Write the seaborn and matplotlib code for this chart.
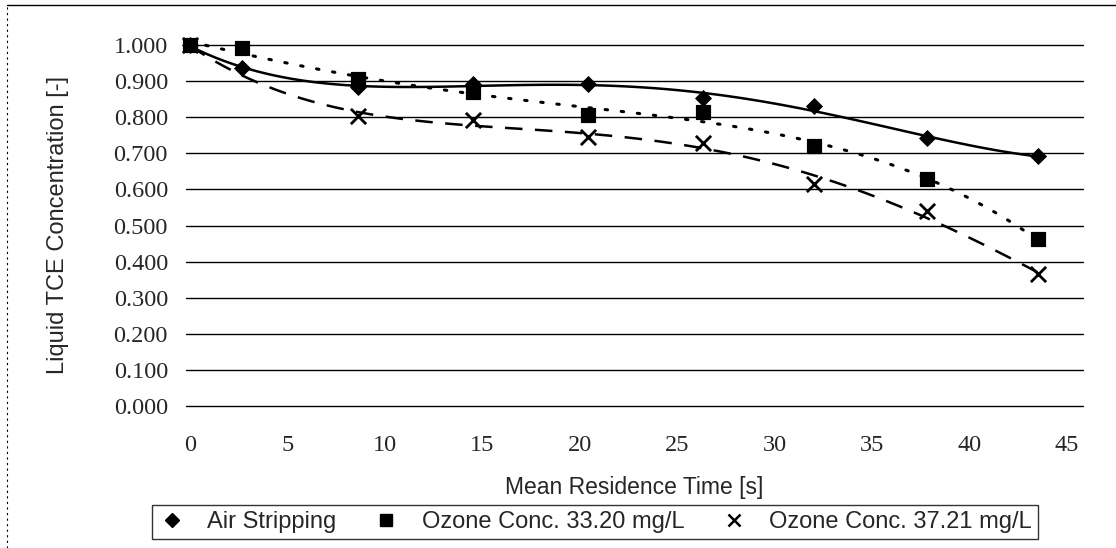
import numpy as np
import pandas as pd
import matplotlib
matplotlib.use("Agg")
import matplotlib.pyplot as plt
import seaborn as sns
from matplotlib.lines import Line2D

# ---- data ----
time_s = [0, 2.65, 8.6, 14.5, 20.4, 26.3, 32.0, 37.8, 43.5]
air_stripping = [1.000, 0.935, 0.885, 0.893, 0.891, 0.852, 0.832, 0.742, 0.692]
ozone_3320 = [1.000, 0.993, 0.905, 0.870, 0.807, 0.815, 0.720, 0.628, 0.462]
time_s_x = [0, 8.6, 14.5, 20.4, 26.3, 32.0, 37.8, 43.5]
ozone_3721 = [1.000, 0.804, 0.792, 0.745, 0.728, 0.614, 0.540, 0.365]

series_names = ["Air Stripping", "Ozone Conc. 33.20 mg/L", "Ozone Conc. 37.21 mg/L"]
x_ticks = [0, 5, 10, 15, 20, 25, 30, 35, 40, 45]
y_ticks = [0.0, 0.1, 0.2, 0.3, 0.4, 0.5, 0.6, 0.7, 0.8, 0.9, 1.0]

df_air = pd.DataFrame({"t": time_s, "c": air_stripping})
df_o1 = pd.DataFrame({"t": time_s, "c": ozone_3320})
df_o2 = pd.DataFrame({"t": time_s_x, "c": ozone_3721})

sns.set_style("white")
plt.rcParams["font.family"] = ["Liberation Sans", "DejaVu Sans"]

fig = plt.figure(figsize=(11.16, 5.48), dpi=100)
ax = fig.add_axes([186/1116, 1 - 406/548, (1083 - 186)/1116, (406 - 45)/548])

# grid
for yv in y_ticks:
    ax.axhline(yv, color="black", lw=1.0, zorder=1)

# fitted curves
sns.regplot(data=df_air, x="t", y="c", order=4, ci=None, scatter=False, ax=ax,
            line_kws=dict(color="black", lw=1.8, ls="-", zorder=2))
sns.regplot(data=df_o1, x="t", y="c", order=4, ci=None, scatter=False, ax=ax,
            line_kws=dict(color="black", lw=2.2, ls=(0, (0.8, 4.5)), dash_capstyle="round", zorder=2))
sns.regplot(data=df_o2, x="t", y="c", order=4, ci=None, scatter=False, ax=ax,
            line_kws=dict(color="black", lw=1.8, ls=(0, (7, 5)), zorder=2))

# markers
sns.scatterplot(data=df_air, x="t", y="c", marker="D", s=65, color="black",
                edgecolor="black", ax=ax, zorder=4)
sns.scatterplot(data=df_o1, x="t", y="c", marker="s", s=115, color="black",
                edgecolor="black", ax=ax, zorder=4)
sns.scatterplot(data=df_o2, x="t", y="c", marker="x", s=120, color="black",
                linewidth=2.0, ax=ax, zorder=4)

ax.set_xlim(-0.2, 45.82)
ax.set_ylim(0.0, 1.0)
ax.set_xticks(x_ticks)
ax.set_yticks(y_ticks)
ax.set_xticklabels([str(v) for v in x_ticks], family="Liberation Serif", fontsize=17.5)
ax.set_yticklabels([f"{v:.3f}" for v in y_ticks], family="Liberation Serif", fontsize=17.5)
ax.tick_params(axis="y", length=0, pad=13)
ax.tick_params(axis="x", length=0, pad=21)
for sp in ax.spines.values():
    sp.set_visible(False)
ax.set_xlabel("Mean Residence Time [s]", fontsize=16.5, labelpad=14)
ax.set_ylabel("Liquid TCE Concentration [-]", fontsize=17, labelpad=32)
for ln in ax.lines:
    ln.set_clip_on(False)
for c in ax.collections:
    c.set_clip_on(False)

# legend
handles = [
    Line2D([], [], ls="none", marker="D", color="black", ms=7),
    Line2D([], [], ls="none", marker="s", color="black", ms=9),
    Line2D([], [], ls="none", marker="x", color="black", ms=9, mew=1.8),
]
leg = fig.legend(handles, series_names, loc="center", ncol=3,
                 bbox_to_anchor=(595/1116, 1 - 522/548), frameon=True,
                 fontsize=17, handlelength=1.2, handletextpad=0.9,
                 columnspacing=1.5, borderpad=0.25, fancybox=False)
leg.get_frame().set_edgecolor("black")
leg.get_frame().set_linewidth(1.0)

# scan border
fig.add_artist(Line2D([7/1116, 1.0], [1 - 5/548, 1 - 5/548], color="black", lw=1.0))
fig.add_artist(Line2D([7/1116, 7/1116], [0, 1 - 5/548], color="black", lw=0.8, ls=(0, (2, 3))))

fig.savefig("out.png", dpi=100)
